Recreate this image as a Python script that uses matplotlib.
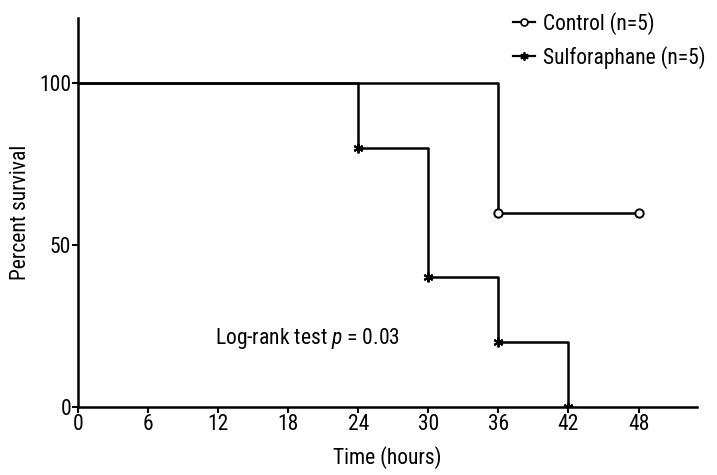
import matplotlib
matplotlib.use("Agg")
import matplotlib.pyplot as plt
from matplotlib.lines import Line2D

plt.rcParams['font.family'] = ['Roboto Condensed', 'Liberation Sans', 'DejaVu Sans']
plt.rcParams['mathtext.fontset'] = 'custom'
plt.rcParams['mathtext.it'] = 'Roboto Condensed:italic'
plt.rcParams['mathtext.rm'] = 'Roboto Condensed'

control_t = [0, 36, 48]
control_s = [100, 60, 60]
sulfo_t = [0, 24, 30, 36, 42]
sulfo_s = [100, 80, 40, 20, 0]
xticks = [0, 6, 12, 18, 24, 30, 36, 42, 48]
yticks = [0, 50, 100]
labels = ['Control (n=5)', 'Sulforaphane (n=5)']

FS = 15.5
fig = plt.figure(figsize=(7.17, 4.75), dpi=100)
ax = fig.add_axes([0.1088, 0.1432, 0.972 - 0.1088, 0.962 - 0.1432])

star = (6, 2, 0)
ax.step(sulfo_t, sulfo_s, where='post', color='black', lw=1.8)
ax.plot(sulfo_t[1:], sulfo_s[1:], ls='none', marker=star, ms=7, mec='black', mew=1.5)
ax.step(control_t, control_s, where='post', color='black', lw=1.8)
ax.plot(control_t[1:], control_s[1:], ls='none', marker='o', ms=6, mfc='white', mec='black', mew=1.4)

h1 = Line2D([0], [0], color='black', lw=1.6, marker='o', ms=5, mfc='white', mec='black', mew=1.2)
h2 = Line2D([0], [0], color='black', lw=1.6, marker=star, ms=6, mec='black', mew=1.3)
fig.legend([h1, h2], labels, loc='upper right',
           bbox_to_anchor=(1.0, 1.0), frameon=False, fontsize=FS, handlelength=1.0,
           handletextpad=0.35, labelspacing=0.5, borderaxespad=0.15)

ax.text(11.7, 21, 'Log-rank test $p$ = 0.03', fontsize=FS, va='center', ha='left')

ax.set_xlim(0, 53)
ax.set_ylim(0, 120)
ax.set_xticks(xticks)
ax.set_yticks(yticks)
ax.tick_params(labelsize=FS, width=1.5, length=4, direction='out', pad=1)
for s in ['top', 'right']:
    ax.spines[s].set_visible(False)
for s in ['left', 'bottom']:
    ax.spines[s].set_linewidth(1.8)
ax.set_xlabel('Time (hours)', fontsize=FS, labelpad=8)
ax.set_ylabel('Percent survival', fontsize=FS, labelpad=6)

fig.savefig('out.png', dpi=100)
